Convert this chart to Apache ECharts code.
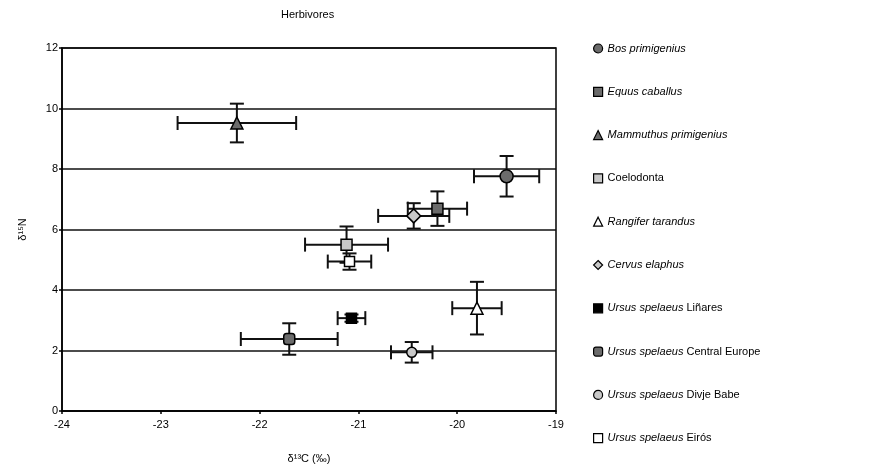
<!DOCTYPE html>
<html>
<head>
<meta charset="utf-8">
<script src="https://cdn.jsdelivr.net/npm/echarts@6/dist/echarts.min.js"></script>
<style>html,body{margin:0;padding:0;background:#fff}#c{width:874px;height:474px}</style>
</head>
<body>
<div id="c"></div>
<script>
// ---- data ----
const seriesNames = ['Bos primigenius','Equus caballus','Mammuthus primigenius','Coelodonta','Rangifer tarandus','Cervus elaphus','Ursus spelaeus Liñares','Ursus spelaeus Central Europe','Ursus spelaeus Divje Babe','Ursus spelaeus Eirós'];
const d13C   = [-19.50, -20.20, -22.23, -21.12, -19.80, -20.44, -21.07, -21.70, -20.46, -21.09];
const d15N   = [  7.76,   6.69,   9.52,   5.50,   3.40,   6.45,   3.07,   2.38,   1.94,   4.94];
const errC   = [  0.33,   0.30,   0.60,   0.42,   0.25,   0.36,   0.14,   0.49,   0.21,   0.22];
const errN   = [  0.67,   0.57,   0.64,   0.60,   0.87,   0.42,   0.12,   0.52,   0.34,   0.27];
const xTickLabels = ['-24','-23','-22','-21','-20','-19'];
const yTickLabels = ['0','2','4','6','8','10','12'];

// ---- styles ----
const symbols = ['circle','rect','triangle','rect','triangle','diamond','rect','roundRect','circle','rect'];
const fills   = ['#6b6b6b','#6b6b6b','#6b6b6b','#c8c8c8','#ffffff','#c8c8c8','#000000','#6b6b6b','#c8c8c8','#ffffff'];
const sizes   = [13, 11, 12, 11, 12, 14, 10, 11, 10, 10];
const FONT = 'Liberation Sans, Arial, sans-serif';

const chart = echarts.init(document.getElementById('c'), null, {renderer:'canvas'});

function legendFormatter(name){
  if (name.indexOf('Ursus spelaeus ') === 0) {
    return '{i|Ursus spelaeus} {n|' + name.slice('Ursus spelaeus '.length) + '}';
  }
  if (name === 'Coelodonta') return '{n|Coelodonta}';
  return '{i|' + name + '}';
}

const series = [];
seriesNames.forEach((nm, i) => {
  series.push({
    name: nm,
    type: 'scatter',
    z: 5,
    symbol: symbols[i],
    symbolSize: sizes[i],
    itemStyle: {color: fills[i], borderColor:'#000', borderWidth:1.5, opacity:1},
    data: [[d13C[i], d15N[i]]]
  });
  series.push({
    name: nm + ' (error)',
    type: 'custom',
    z: 3,
    silent: true,
    data: [[d13C[i], d15N[i], errC[i], errN[i]]],
    renderItem: function(params, api){
      const x = api.value(0), y = api.value(1), ex = api.value(2), ey = api.value(3);
      const c = api.coord([x, y]);
      const l = api.coord([x - ex, y]), r = api.coord([x + ex, y]);
      const t = api.coord([x, y + ey]), b = api.coord([x, y - ey]);
      const cap = 7;
      const st = {stroke:'#111', lineWidth:2};
      return {type:'group', children:[
        {type:'line', shape:{x1:l[0],y1:c[1],x2:r[0],y2:c[1]}, style:st},
        {type:'line', shape:{x1:l[0],y1:c[1]-cap,x2:l[0],y2:c[1]+cap}, style:st},
        {type:'line', shape:{x1:r[0],y1:c[1]-cap,x2:r[0],y2:c[1]+cap}, style:st},
        {type:'line', shape:{x1:c[0],y1:t[1],x2:c[0],y2:b[1]}, style:st},
        {type:'line', shape:{x1:c[0]-cap,y1:t[1],x2:c[0]+cap,y2:t[1]}, style:st},
        {type:'line', shape:{x1:c[0]-cap,y1:b[1],x2:c[0]+cap,y2:b[1]}, style:st}
      ]};
    }
  });
});

const legendData = seriesNames.map((nm, i) => ({
  name: nm,
  icon: symbols[i],
  itemStyle: {color: fills[i], borderColor: '#000', borderWidth: 1.2}
}));

chart.setOption({
  animation: false,
  backgroundColor: '#fff',
  textStyle: {fontFamily: FONT},
  title: {
    text: 'Herbivores', left: 276, top: 4,
    textStyle: {fontFamily: FONT, fontSize: 11, fontWeight: 'normal', color: '#000'}
  },
  grid: {left: 62, right: 318, top: 48, bottom: 63, show: true, borderColor: '#000', borderWidth: 1.5, backgroundColor: 'transparent'},
  xAxis: {
    type: 'value', min: -24, max: -19, interval: 1,
    name: 'δ¹³C (‰)', nameLocation: 'middle', nameGap: 42,
    nameTextStyle: {fontFamily: FONT, fontSize: 11, color: '#000'},
    axisLine: {show: true, onZero: false, lineStyle: {color: '#000', width: 1.5}},
    axisTick: {show: true, length: 3, lineStyle: {color: '#000', width: 1.5}},
    axisLabel: {color: '#000', fontSize: 11, fontFamily: FONT, margin: 8,
      formatter: v => xTickLabels[Math.round(v + 24)]},
    splitLine: {show: false}
  },
  yAxis: {
    type: 'value', min: 0, max: 12, interval: 2,
    name: 'δ¹⁵N', nameLocation: 'middle', nameGap: 34, nameRotate: 90,
    nameTextStyle: {fontFamily: FONT, fontSize: 11, color: '#000'},
    axisLine: {show: true, lineStyle: {color: '#000', width: 1.5}},
    axisTick: {show: true, length: 3, lineStyle: {color: '#000', width: 1.5}},
    axisLabel: {color: '#000', fontSize: 11, fontFamily: FONT, margin: 4,
      formatter: v => yTickLabels[Math.round(v / 2)]},
    splitLine: {show: true, lineStyle: {color: '#111', width: 1.5}}
  },
  legend: {
    orient: 'vertical', left: 588, top: 38,
    itemWidth: 9, itemHeight: 9, itemGap: 32.3,
    data: legendData,
    formatter: legendFormatter,
    textStyle: {
      fontFamily: FONT, fontSize: 11, color: '#000',
      rich: {
        i: {fontStyle: 'italic', fontFamily: FONT, fontSize: 11, color: '#000'},
        n: {fontStyle: 'normal', fontFamily: FONT, fontSize: 11, color: '#000'}
      }
    },
    selectedMode: false
  },
  series: series
});
</script>
</body>
</html>
